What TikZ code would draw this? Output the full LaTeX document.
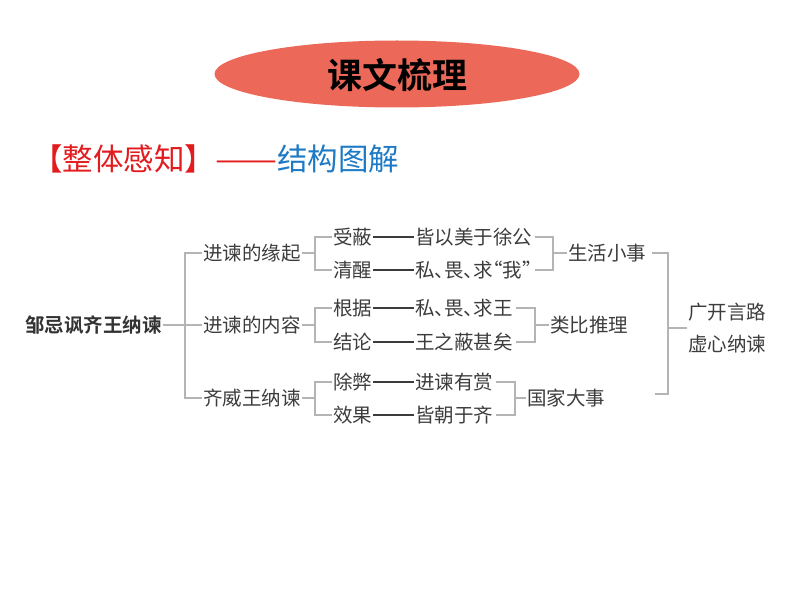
\documentclass[tikz,border=0pt]{standalone}
\usepackage{fontspec}
\usepackage{graphicx}
\newfontfamily\cjk{Noto Sans CJK SC}
\newfontfamily\cjkb{Noto Sans CJK SC Bold}
\usetikzlibrary{shapes.geometric}
\definecolor{titlered}{RGB}{236,104,88}
\definecolor{hred}{RGB}{226,28,30}
\definecolor{hblue}{RGB}{30,122,196}
\definecolor{txt}{RGB}{60,60,60}
\definecolor{brk}{RGB}{180,180,180}
\newcommand{\dun}{\makebox[0.5em][l]{、}}
\newcommand{\myLq}{\makebox[0.5em][r]{“}}
\newcommand{\myRq}{\makebox[0.5em][l]{”}}
\begin{document}
\begin{tikzpicture}[x=1pt,y=-1pt,
  lbl/.style={anchor=west,inner sep=1pt,font=\cjk\fontsize{19.5}{22}\selectfont,text=txt},
  br/.style={draw=brk,line width=2.2pt},
  dsh/.style={draw=txt,line width=1.2pt}]
\useasboundingbox (0,0) rectangle (794,596);
% title
\node[ellipse,fill=titlered,minimum width=365,minimum height=67,inner sep=0] (title) at (397,74) {};
\node[font=\cjkb\fontsize{35}{40}\selectfont,text=black] (ttext) at (397,75) {课文梳理};
% heading
\node[anchor=west,inner sep=0,font=\cjk\fontsize{30.5}{34}\selectfont] (head) at (32,159)
  {\textcolor{hred}{【整体感知】\resizebox{62pt}{\height}{——}}\textcolor{hblue}{结构图解}};
% root
\node[lbl,text=black!80,font=\cjkb\fontsize{19.5}{22}\selectfont] (root) at (24,325) {邹忌讽齐王纳谏};
% level 1
\node[lbl] (l1a) at (202,253) {进谏的缘起};
\node[lbl] (l1b) at (202,325) {进谏的内容};
\node[lbl] (l1c) at (202,398) {齐威王纳谏};
% level 2
\node[lbl] (l2a) at (332,237) {受蔽};
\node[lbl] (l2b) at (332,270) {清醒};
\node[lbl] (l2c) at (332,308) {根据};
\node[lbl] (l2d) at (332,342) {结论};
\node[lbl] (l2e) at (332,382) {除弊};
\node[lbl] (l2f) at (332,415) {效果};
% level 3
\node[lbl] (l3a) at (414,237) {皆以美于徐公};
\node[lbl] (l3b) at (414,270) {私\dun 畏\dun 求\myLq 我\myRq};
\node[lbl] (l3c) at (414,308) {私\dun 畏\dun 求王};
\node[lbl] (l3d) at (414,342) {王之蔽甚矣};
\node[lbl] (l3e) at (414,382) {进谏有赏};
\node[lbl] (l3f) at (414,415) {皆朝于齐};
% level 4
\node[lbl] (l4a) at (567,253) {生活小事};
\node[lbl] (l4b) at (549,325) {类比推理};
\node[lbl] (l4c) at (526,398) {国家大事};
% level 5
\node[lbl,align=left,font=\cjk\fontsize{19.5}{32}\selectfont] (l5) at (687,328) {广开言路\\虚心纳谏};
% spine coordinates
\coordinate (s0) at (185,0);
\coordinate (s1) at (315,0);
\coordinate (s3a) at (553,0);
\coordinate (s3b) at (535,0);
\coordinate (s3c) at (515,0);
\coordinate (s4) at (668,0);
% root bracket
\draw[br] (root.east) -- (root.east -| s0);
\draw[br] (l1a.west) -- (l1a.west -| s0) -- (l1c.west -| s0) -- (l1c.west);
\draw[br] (l1b.west) -- (l1b.west -| s0);
% level1 -> level2 brackets
\foreach \p/\a/\b in {l1a/l2a/l2b, l1b/l2c/l2d, l1c/l2e/l2f}{
  \draw[br] (\p.east) -- (\p.east -| s1);
  \draw[br] (\a.west) -- (\a.west -| s1) -- (\b.west -| s1) -- (\b.west);
}
% dashes level2 -> level3
\foreach \a/\b in {l2a/l3a, l2b/l3b, l2c/l3c, l2d/l3d, l2e/l3e, l2f/l3f}{
  \draw[dsh] (\a.east) -- (\b.west);
}
% level3 -> level4 brackets
\foreach \a/\b/\s/\q in {l3a/l3b/s3a/l4a, l3c/l3d/s3b/l4b, l3e/l3f/s3c/l4c}{
  \draw[br] ([xshift=2pt]\a.east) -- (\a.east -| \s) -- (\b.east -| \s) -- ([xshift=2pt]\b.east);
  \draw[br] (\q.west) -- (\q.west -| \s);
}
% level4 -> level5 bracket
\draw[br] ([xshift=-16pt]l4a.east -| s4) -- (l4a.east -| s4) -- ([yshift=4pt]l4c.east -| s4) -- ([xshift=-13pt,yshift=4pt]l4c.east -| s4);
\draw[br] (l5.west) -- (l5.west -| s4);
\end{tikzpicture}
\end{document}
